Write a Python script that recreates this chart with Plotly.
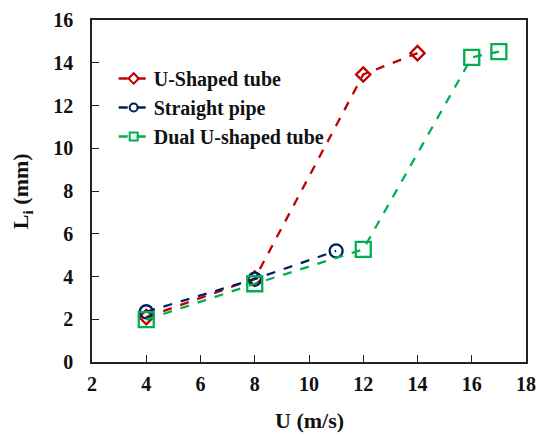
import plotly.graph_objects as go

# Measured length L_i versus velocity U for three geometries
u_shaped_x = [4, 8, 12, 14]
u_shaped_y = [2.1, 3.9, 13.45, 14.45]

straight_x = [4, 8, 11]
straight_y = [2.35, 3.88, 5.2]

dual_x = [4, 8, 12, 16, 17]
dual_y = [1.98, 3.66, 5.27, 14.25, 14.52]

x_ticks = [2, 4, 6, 8, 10, 12, 14, 16, 18]
y_ticks = [0, 2, 4, 6, 8, 10, 12, 14, 16]

FONT = "Liberation Serif"
TITLE_FONT = dict(family=FONT, size=22, color="#111", weight="bold")

series = [
    ("U-Shaped tube", u_shaped_x, u_shaped_y, "#C00000", "diamond-open", 11),
    ("Straight pipe", straight_x, straight_y, "#002060", "circle-open", 13),
    ("Dual U-shaped tube", dual_x, dual_y, "#00B050", "square-open", 15),
]

fig = go.Figure()
for name, xs, ys, color, symbol, size in series:
    fig.add_trace(go.Scatter(
        x=xs, y=ys, mode="lines+markers", name=name, showlegend=False,
        line=dict(color=color, width=2.3, dash="dash"),
        marker=dict(symbol=symbol, size=size, color=color, line=dict(width=2.3)),
    ))
# legend entries with smaller symbols
for name, xs, ys, color, symbol, size in series:
    fig.add_trace(go.Scatter(
        x=[None], y=[None], mode="lines+markers", name=name,
        line=dict(color=color, width=2.3, dash="dash"),
        marker=dict(symbol=symbol, size=8, color=color, line=dict(width=2)),
    ))

axis_common = dict(
    showgrid=False, zeroline=False, showline=True, linecolor="#222", linewidth=1.5,
    mirror=True, ticks="inside", ticklen=7, tickcolor="#222", tickwidth=1.2,
    automargin=False,
    tickfont=dict(family=FONT, size=20, color="#111", weight="bold"),
)

fig.update_xaxes(range=[2, 18], tickvals=x_ticks, ticklabelstandoff=3, **axis_common)
fig.update_yaxes(range=[0, 16], tickvals=y_ticks, ticklabelstandoff=13, **axis_common)

# axis titles
fig.add_annotation(text="U (m/s)", xref="paper", yref="paper", x=0.5, y=-0.170,
                   xanchor="center", yanchor="middle", showarrow=False, font=TITLE_FONT)
fig.add_annotation(text="L<sub>i</sub> (mm)", xref="paper", yref="paper", x=-0.161, y=0.5,
                   xanchor="center", yanchor="middle", textangle=-90, showarrow=False, font=TITLE_FONT)

fig.update_layout(
    width=542, height=435,
    margin=dict(l=92, r=16, t=20, b=73),
    plot_bgcolor="white", paper_bgcolor="white",
    font=dict(family=FONT, color="#111"),
    legend=dict(x=0.05, y=0.886, xanchor="left", yanchor="top",
                bgcolor="rgba(0,0,0,0)", font=dict(family=FONT, size=20, color="#111", weight="bold"),
                itemwidth=30, tracegroupgap=0),
)

fig.write_html("out.html")
